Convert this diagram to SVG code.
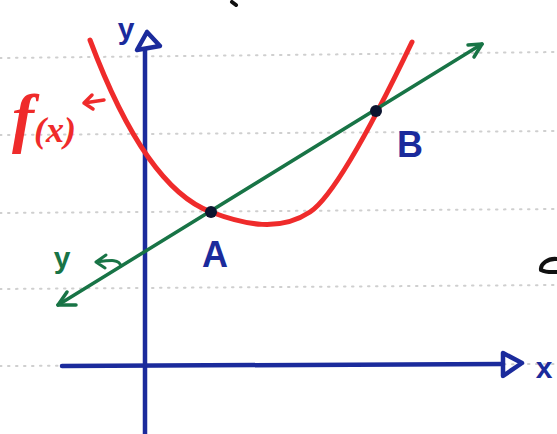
<svg xmlns="http://www.w3.org/2000/svg" width="557" height="434" viewBox="0 0 557 434">
<style>
.dot{stroke:#cfcfcf;stroke-width:2;stroke-dasharray:1.5 6.5;stroke-linecap:round;fill:none}
.blue{stroke:#1b2b9c;stroke-linecap:round;stroke-linejoin:round;fill:none}
.red{stroke:#ef2b2b;stroke-linecap:round;stroke-linejoin:round;fill:none}
.green{stroke:#187446;stroke-linecap:round;stroke-linejoin:round;fill:none}
.lbl{font-family:"Liberation Sans",Arial,sans-serif;font-weight:bold}
</style>
<rect width="557" height="434" fill="#ffffff"/>
<g id="ruled-lines">
<line class="dot" x1="0" y1="58" x2="557" y2="52"/>
<line class="dot" x1="0" y1="135" x2="557" y2="131"/>
<line class="dot" x1="0" y1="213" x2="557" y2="209"/>
<line class="dot" x1="0" y1="289" x2="557" y2="285"/>
<line class="dot" x1="0" y1="366" x2="557" y2="364"/>
</g>
<g id="axes">
<line class="blue" stroke-width="4.5" x1="145" y1="434" x2="145" y2="50"/>
<polygon class="blue" stroke-width="4.5" fill="#ffffff" points="147,32 137,50 160,46"/>
<line class="blue" stroke-width="4.5" x1="62" y1="366" x2="503" y2="364"/>
<polygon class="blue" stroke-width="4.5" fill="#ffffff" points="503,353 503,376 522,363"/>
<text class="lbl" x="126" y="39" font-size="30" fill="#1b2b9c" text-anchor="middle">y</text>
<text class="lbl" x="544" y="378" font-size="30" fill="#1b2b9c" text-anchor="middle">x</text>
</g>
<g id="curve-f">
<path class="red" stroke-width="5" d="M90,40 C120,120 160,193 211,212 C245,225 280,232 310,212 C330,199 365,140 412,42"/>
<text x="12" y="140" font-family="'Liberation Serif',serif" font-style="italic" font-weight="bold" font-size="66" fill="#ef2b2b">f<tspan font-size="36" dy="2">(x)</tspan></text>
<path class="red" stroke-width="3.5" d="M104,100 L84,103 M92,95 L84,103 L93,109"/>
</g>
<g id="line-y">
<line class="green" stroke-width="3.5" x1="58" y1="305" x2="482" y2="44"/>
<path class="green" stroke-width="3.5" d="M468,45 L482,44 L474,57"/>
<path class="green" stroke-width="3.5" d="M67,292 L58,305 L76,305"/>
<text class="lbl" x="62" y="268" font-size="30" fill="#187446" text-anchor="middle">y</text>
<path class="green" stroke-width="3" d="M121,266 C119,259 112,260 96,262 M106,255 L96,262 L105,268"/>
</g>
<g id="point-A">
<circle cx="211" cy="212" r="6" fill="#0d1530"/>
<text class="lbl" x="215" y="267" font-size="36" fill="#1b2b9c" text-anchor="middle">A</text>
</g>
<g id="point-B">
<circle cx="376" cy="111" r="6" fill="#0d1530"/>
<text class="lbl" x="410" y="157" font-size="36" fill="#1b2b9c" text-anchor="middle">B</text>
</g>
<g id="fragments">
<path d="M557,259 C548,258 540,264 541,270 C547,273 553,272 557,272" stroke="#111" stroke-width="4" fill="none" stroke-linecap="round"/>
<path d="M232,2 L236,5" stroke="#111" stroke-width="4" fill="none" stroke-linecap="round"/>
</g>
</svg>
